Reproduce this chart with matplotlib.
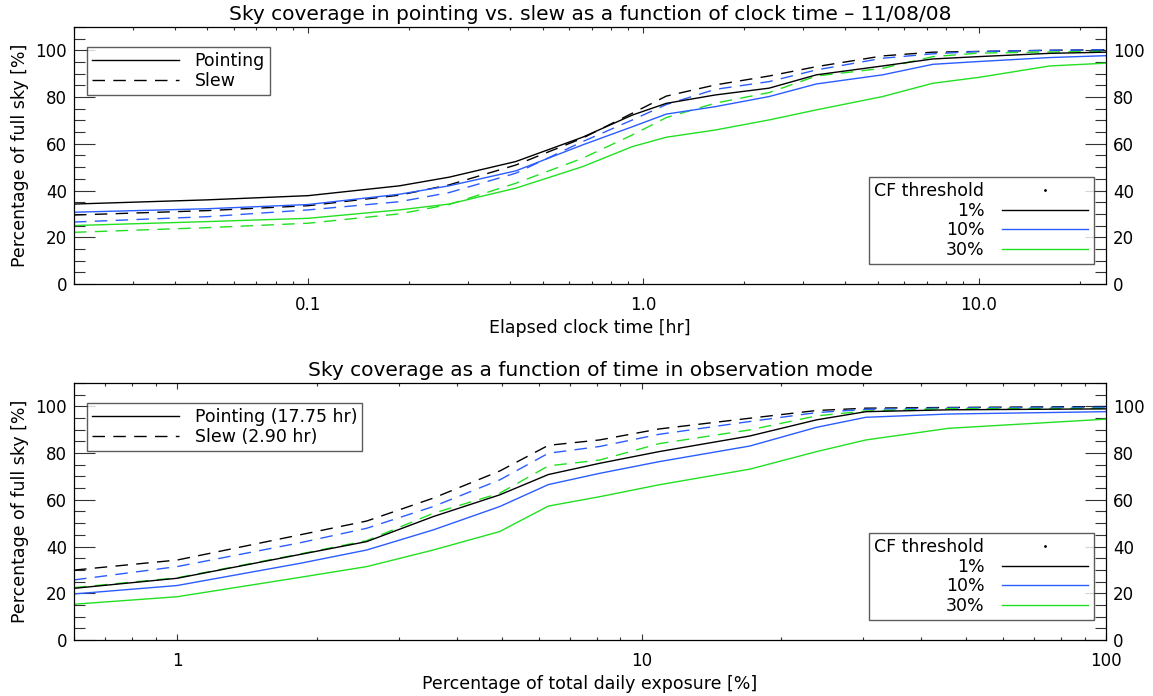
import numpy as np
import matplotlib
matplotlib.use("Agg")
import matplotlib.pyplot as plt
from matplotlib.lines import Line2D
from matplotlib.ticker import FixedLocator, FixedFormatter, MultipleLocator, LogLocator, NullFormatter

plt.rcParams['font.family'] = ['DejaVu Sans']

BLUE = '#2a5cff'
GREEN = '#22e022'

# ---- top panel: elapsed clock time [hr] ----
t_hr = [0.02, 0.05, 0.1, 0.187, 0.263, 0.416, 0.658, 0.927, 1.17, 1.64, 2.37, 3.28, 5.17, 7.3, 10.0, 16.3, 24.0]
clk_point_1 = [34.2, 36.0, 37.8, 42.0, 45.7, 52.4, 62.8, 72.3, 77.3, 80.9, 83.8, 89.5, 93.3, 96.3, 97.3, 98.7, 99.2]
clk_point_10 = [30.7, 32.2, 34.0, 38.4, 42.0, 48.4, 59.5, 67.3, 72.7, 75.9, 80.2, 85.6, 89.5, 94.0, 95.2, 96.9, 97.7]
clk_point_30 = [25.0, 26.7, 28.1, 31.7, 34.2, 41.0, 50.2, 58.8, 62.8, 65.9, 70.2, 74.5, 80.2, 85.9, 88.4, 93.3, 94.5]
clk_slew_1 = [29.5, 31.4, 33.5, 38.0, 42.4, 50.9, 62.4, 73.1, 80.4, 85.2, 89.0, 93.0, 97.6, 99.2, 99.5, 100.0, 100.2]
clk_slew_10 = [26.5, 28.8, 31.7, 35.2, 39.1, 47.4, 60.9, 70.2, 76.8, 83.3, 86.6, 91.6, 96.6, 98.5, 99.5, 100.0, 100.2]
clk_slew_30 = [22.1, 24.1, 26.0, 30.0, 34.0, 43.1, 53.8, 63.8, 71.2, 77.4, 81.9, 89.0, 92.3, 97.3, 98.8, 99.3, 99.5]

# ---- bottom panel: percentage of total daily exposure [%] ----
exp_pct = [0.6, 1.0, 1.84, 2.56, 3.56, 4.95, 6.3, 8.12, 10.9, 17.1, 23.8, 30.4, 45.9, 100.0]
exp_point_1 = [22.1, 26.4, 36.6, 42.1, 52.8, 62.1, 70.8, 75.6, 80.6, 87.3, 94.2, 97.7, 98.5, 98.9]
exp_point_10 = [19.7, 23.3, 32.8, 38.5, 47.1, 57.1, 66.5, 71.3, 76.3, 83.0, 91.0, 95.3, 96.7, 97.7]
exp_point_30 = [15.3, 18.5, 26.8, 31.4, 38.5, 46.4, 57.3, 61.3, 66.4, 73.1, 80.6, 85.6, 90.6, 94.5]
exp_slew_1 = [29.9, 34.2, 45.0, 50.9, 60.7, 72.3, 83.3, 85.6, 90.3, 94.9, 98.2, 99.2, 99.5, 99.9]
exp_slew_10 = [25.7, 31.4, 41.6, 47.8, 57.1, 68.5, 79.9, 82.8, 88.0, 93.5, 97.3, 98.7, 99.3, 99.6]
exp_slew_30 = [22.4, 26.6, 36.8, 42.5, 54.2, 62.8, 74.5, 77.0, 84.0, 89.9, 95.9, 98.0, 99.0, 99.1]

thresholds = ['1%', '10%', '30%']
colors = ['black', BLUE, GREEN]

titles = ['Sky coverage in pointing vs. slew as a function of clock time \u2013 11/08/08',
          'Sky coverage as a function of time in observation mode']
xlabels = ['Elapsed clock time [hr]', 'Percentage of total daily exposure [%]']
mode_labels = [['Pointing', 'Slew'], ['Pointing (17.75 hr)', 'Slew (2.90 hr)']]
xticks = [[0.1, 1.0, 10.0], [1, 10, 100]]
xticklabels = [['0.1', '1.0', '10.0'], ['1', '10', '100']]
xlims = [(0.02, 24.0), (0.6, 100.0)]

DASH = (0, (9, 6))

fig = plt.figure(figsize=(11.53, 6.96), dpi=100)
ax_top = fig.add_axes([0.0642, 0.5920, 0.8951, 0.3693])
ax_bot = fig.add_axes([0.0642, 0.0805, 0.8951, 0.3693])

panels = [
    (ax_top, t_hr, [clk_point_1, clk_point_10, clk_point_30], [clk_slew_1, clk_slew_10, clk_slew_30]),
    (ax_bot, exp_pct, [exp_point_1, exp_point_10, exp_point_30], [exp_slew_1, exp_slew_10, exp_slew_30]),
]

for i, (ax, x, point, slew) in enumerate(panels):
    for ys, c in zip(slew, colors):
        ax.plot(x, ys, color=c, lw=1.0, linestyle=DASH)
    for ys, c in zip(point, colors):
        ax.plot(x, ys, color=c, lw=1.0)

    ax.set_xscale('log')
    ax.set_xlim(*xlims[i])
    ax.set_ylim(0, 110)

    ax.xaxis.set_major_locator(FixedLocator(xticks[i]))
    ax.xaxis.set_major_formatter(FixedFormatter(xticklabels[i]))
    ax.xaxis.set_minor_locator(LogLocator(base=10, subs=np.arange(2, 10)))
    ax.xaxis.set_minor_formatter(NullFormatter())
    ax.yaxis.set_major_locator(MultipleLocator(20))
    ax.yaxis.set_minor_locator(MultipleLocator(5))

    ax.tick_params(axis='both', which='both', direction='in', top=True, right=True,
                   labelright=True, labelsize=12, width=0.8, color='#333333')
    ax.tick_params(axis='y', which='major', length=15, pad=5)
    ax.tick_params(axis='y', which='minor', length=8)
    ax.tick_params(axis='x', which='major', length=4, pad=9)
    ax.tick_params(axis='x', which='minor', length=2.5)
    for s in ax.spines.values():
        s.set_linewidth(0.9)

    ax.set_title(titles[i], fontsize=14.5, pad=5)
    ax.set_xlabel(xlabels[i], fontsize=12.5, labelpad=3)
    ax.set_ylabel('Percentage of full sky [%]', fontsize=12.5, labelpad=5)

    # legend for observation mode
    h_mode = [Line2D([], [], color='black', lw=1.0),
              Line2D([], [], color='black', lw=1.0, linestyle=DASH)]
    leg1 = ax.legend(h_mode, mode_labels[i], loc='upper left',
                     bbox_to_anchor=(0.0126, 0.923), borderaxespad=0,
                     fontsize=12.5, frameon=True, fancybox=False,
                     handlelength=5.0, handletextpad=0.9, labelspacing=0.1,
                     borderpad=0.3)
    leg1.get_frame().set_edgecolor('#333333')
    leg1.get_frame().set_linewidth(1.0)
    ax.add_artist(leg1)

    # legend for CF threshold
    h_cf = [Line2D([], [], ls='none', marker='.', markersize=2, color='black')]
    h_cf += [Line2D([], [], color=c, lw=1.0) for c in colors]
    leg2 = ax.legend(h_cf, ['CF threshold'] + thresholds, loc='lower right',
                     bbox_to_anchor=(0.988, 0.076), borderaxespad=0,
                     fontsize=12.5, frameon=True, fancybox=False, markerfirst=False,
                     handlelength=5.0, handletextpad=1.0, labelspacing=0.1,
                     borderpad=0.3)
    leg2.get_frame().set_edgecolor('#333333')
    leg2.get_frame().set_linewidth(1.0)

fig.savefig('out.png', dpi=100)
